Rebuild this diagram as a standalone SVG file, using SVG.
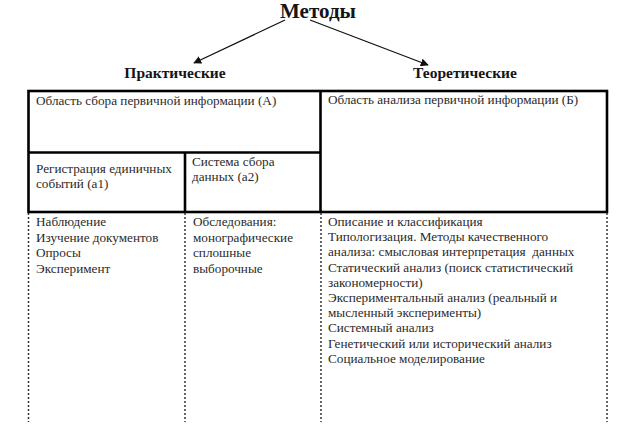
<svg xmlns="http://www.w3.org/2000/svg" width="624" height="430" viewBox="0 0 624 430">
<defs>
<marker id="arr" viewBox="0 0 10 10" refX="9" refY="5" markerWidth="8" markerHeight="8" markerUnits="userSpaceOnUse" orient="auto">
<path d="M0,0 L10,5 L0,10 z" fill="#111"/>
</marker>
<style>
.t{font-family:"Liberation Serif","Times New Roman",serif;font-size:13.2px;fill:#2a2a2a}
.h{font-family:"Liberation Serif","Times New Roman",serif;font-weight:bold;fill:#151515}
.box{fill:none;stroke:#000;stroke-width:2.6}
.dot{stroke:#333;stroke-width:1.5;stroke-dasharray:2,2;fill:none}
</style>
</defs>
<rect width="624" height="430" fill="#fff"/>
<g id="title"><text class="h" x="318" y="18" font-size="21" text-anchor="middle">Методы</text></g>
<g id="practical"><text class="h" x="175" y="78" font-size="15.5" text-anchor="middle">Практические</text></g>
<g id="theoretical"><text class="h" x="465" y="78" font-size="15.5" text-anchor="middle">Теоретические</text></g>
<g id="connectors">
<line x1="285" y1="20" x2="194" y2="63" stroke="#111" stroke-width="1.3" marker-end="url(#arr)"/>
<line x1="310" y1="20" x2="428" y2="65" stroke="#111" stroke-width="1.3" marker-end="url(#arr)"/>
</g>
<g id="table">
<rect class="box" x="28.5" y="91" width="578.5" height="121"/>
<line class="box" x1="320.5" y1="91" x2="320.5" y2="212"/>
<line class="box" x1="28.5" y1="152.5" x2="320.5" y2="152.5"/>
<line class="box" x1="185" y1="152.5" x2="185" y2="212"/>
<line class="dot" x1="28.5" y1="213" x2="28.5" y2="422"/>
<line class="dot" x1="185" y1="213" x2="185" y2="422"/>
<line class="dot" x1="321" y1="213" x2="321" y2="422"/>
<line class="dot" x1="607" y1="213" x2="607" y2="422"/>
</g>
<g id="cellA"><text class="t" x="36" y="105">Область сбора первичной информации (А)</text></g>
<g id="cellB"><text class="t" x="328" y="104">Область анализа первичной информации (Б)</text></g>
<g id="cellA1"><text class="t" x="36" y="173">Регистрация единичных</text><text class="t" x="36" y="188">событий (а1)</text></g>
<g id="cellA2"><text class="t" x="192" y="166">Система сбора</text><text class="t" x="192" y="181">данных (а2)</text></g>
<g id="list1">
<text class="t" x="36" y="226">Наблюдение</text>
<text class="t" x="36" y="241.5">Изучение документов</text>
<text class="t" x="36" y="257">Опросы</text>
<text class="t" x="36" y="272.5">Эксперимент</text>
</g>
<g id="list2">
<text class="t" x="193" y="226">Обследования:</text>
<text class="t" x="193" y="241.5">монографические</text>
<text class="t" x="193" y="257">сплошные</text>
<text class="t" x="193" y="272.5">выборочные</text>
</g>
<g id="list3">
<text class="t" x="328" y="226">Описание и классификация</text>
<text class="t" x="328" y="241.2">Типологизация. Методы качественного</text>
<text class="t" x="328" y="256.4" xml:space="preserve">анализа: смысловая интерпретация  данных</text>
<text class="t" x="328" y="271.6">Статический анализ (поиск статистический</text>
<text class="t" x="328" y="286.8">закономерности)</text>
<text class="t" x="328" y="302">Экспериментальный анализ (реальный и</text>
<text class="t" x="328" y="317.2">мысленный эксперименты)</text>
<text class="t" x="328" y="332.4">Системный анализ</text>
<text class="t" x="328" y="347.6">Генетический или исторический анализ</text>
<text class="t" x="328" y="362.8">Социальное моделирование</text>
</g>
</svg>
